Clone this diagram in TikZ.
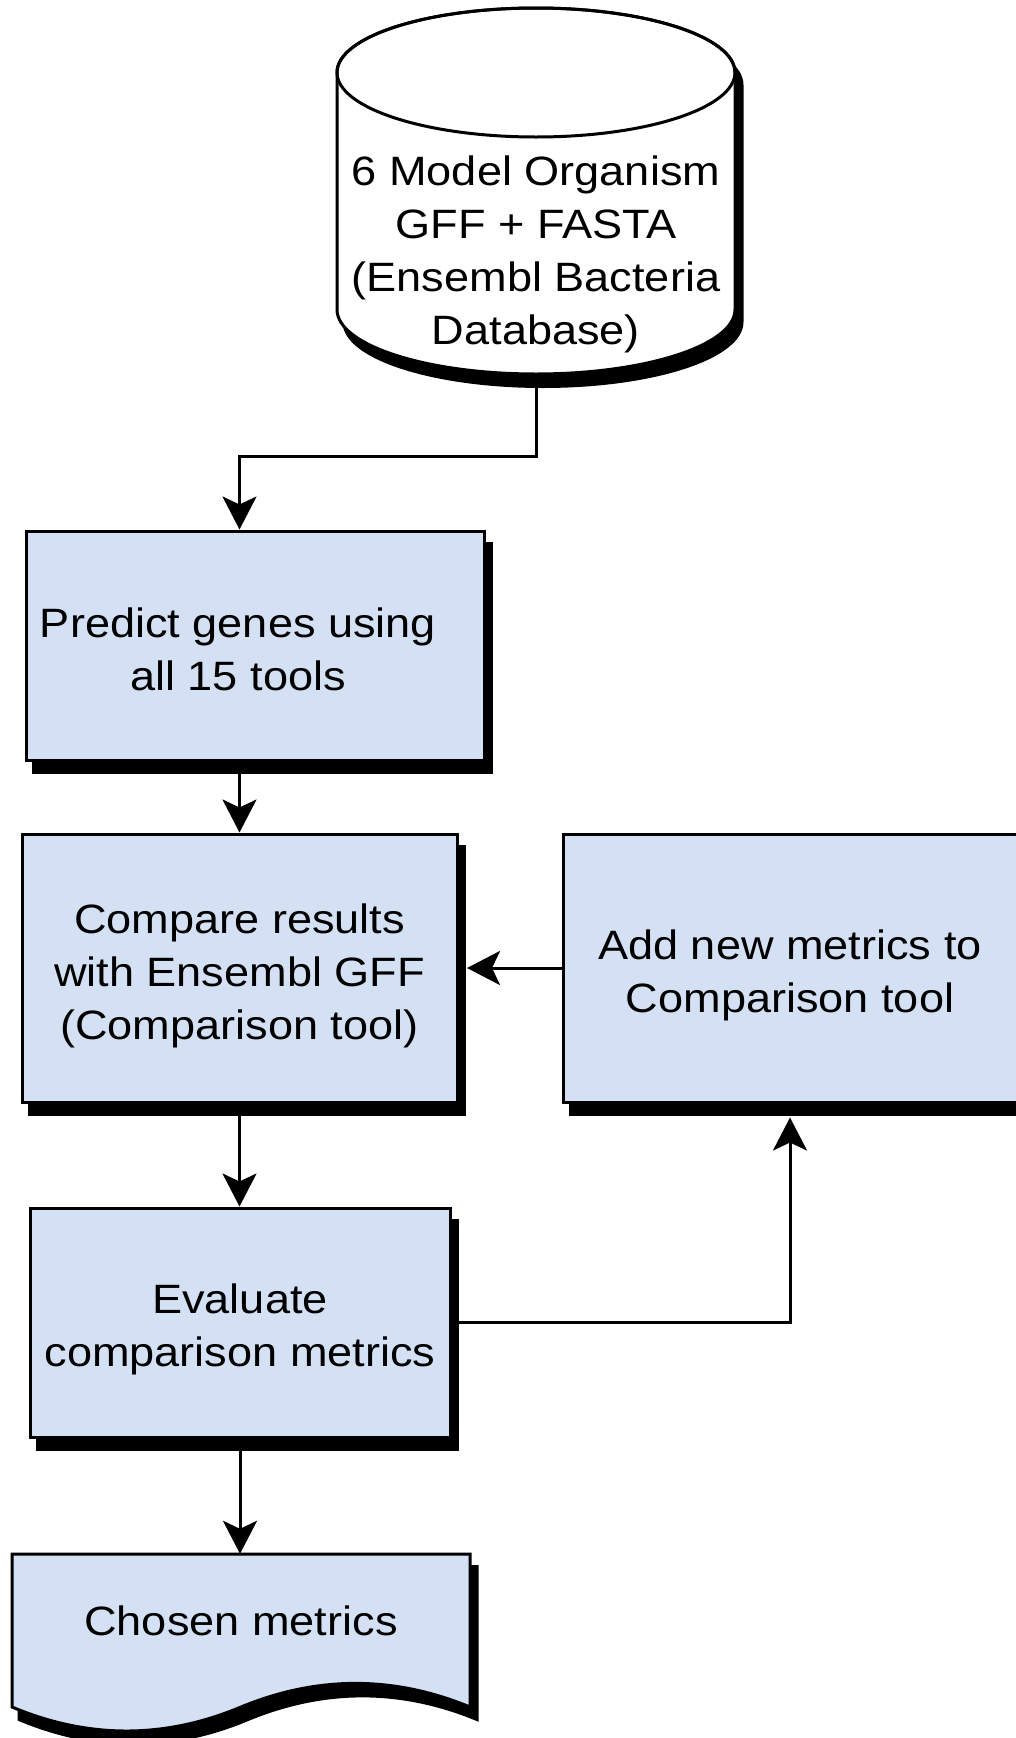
\documentclass[tikz,border=0pt]{standalone}
\usepackage{fontspec}
\setmainfont{Liberation Sans}[FakeStretch=1.1]
\usepackage{tikz}
\usetikzlibrary{arrows.meta}
\usetikzlibrary{shadows}
\usetikzlibrary{positioning}
\usepackage{xcolor}
\definecolor{boxblue}{HTML}{D4E1F5}
\newcommand{\topgap}[1]{\rule{0pt}{#1}}
\tikzset{
  stepbox/.style={draw=black, line width=3pt, fill=boxblue, align=center, inner sep=0pt,
    drop shadow={shadow xshift=7pt, shadow yshift=-12.5pt, fill=black, draw=black, line width=3pt, opacity=1}},
  flow/.style={black, line width=3pt, -{Stealth[length=33pt, width=34pt, inset=8pt]}},
}
\newcommand{\dbpath}{(337,-72.5) -- (337,-309.5) arc[start angle=180, end angle=360, x radius=199, y radius=64.5] -- (735,-72.5) arc[start angle=0, end angle=180, x radius=199, y radius=64.5] -- cycle}
\newcommand{\docpath}{(12,-1554) -- (470,-1554) -- (470,-1707) .. controls (393.7,-1675.5) and (317.3,-1675.5) .. (241,-1707) .. controls (164.7,-1739) and (88.3,-1739) .. (12,-1707) -- cycle}

\begin{document}
\begin{tikzpicture}[x=1pt, y=1pt, font=\fontsize{41}{53}\selectfont]
\useasboundingbox (0,0) rectangle (1015,-1738);
% database
\filldraw[black, line width=3pt, shift={(7,-12.5)}] \dbpath;
\filldraw[fill=white, draw=black, line width=3pt] \dbpath;
\draw[black, line width=3pt] (536,-72.5) ellipse [x radius=199, y radius=64.5];
\node[align=center, minimum width=398pt, minimum height=239pt, inner sep=0pt] (db) at (536,-254.5) {6 Model Organism\\GFF + FASTA\\(Ensembl Bacteria\\Database)};

\node[stepbox, minimum width=458pt, minimum height=229pt, label={[align=center, xshift=-17pt, yshift=-3.5pt]center:Predict genes using\\all 15 tools}] (predict) at (255,-645.5) {};
\node[stepbox, minimum width=435pt, minimum height=268pt] (compare) at (239.5,-968) {\topgap{45pt}Compare results\\with Ensembl GFF\\(Comparison tool)};
\node[stepbox, minimum width=454pt, minimum height=268pt] (addmetrics) at (790,-968) {\topgap{45pt}Add new metrics to\\Comparison tool};
\node[stepbox, minimum width=420pt, minimum height=229pt] (evaluate) at (240,-1322.5) {\topgap{43pt}Evaluate\\comparison metrics};

% document shape
\filldraw[black, line width=3pt, shift={(7,-12.5)}] \docpath;
\filldraw[fill=boxblue, draw=black, line width=3pt] \docpath;
\node[minimum width=458pt, minimum height=134pt, inner sep=0pt] (chosen) at (241,-1621) {Chosen metrics};

\draw[flow] (db.south) -- ++(0,-82) -| (predict.north -| compare.north);
\draw[flow] (predict.south -| compare.north) -- (compare.north);
\draw[flow] (compare.south) -- (compare.south |- evaluate.north);
\draw[flow] (evaluate.south) -- (evaluate.south |- chosen.north);
\draw[flow] (addmetrics.west) -- ([xshift=8.5pt]compare.east);
\draw[flow] (evaluate.east) -| ([yshift=-14pt]addmetrics.south);
\end{tikzpicture}
\end{document}
